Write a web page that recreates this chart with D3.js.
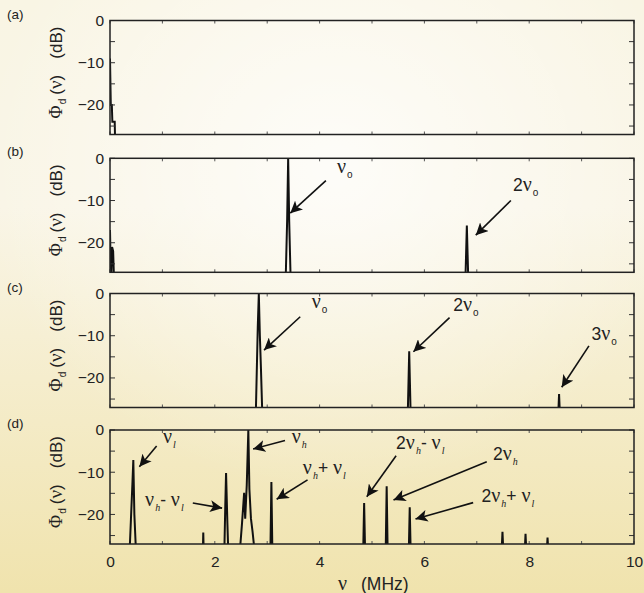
<!DOCTYPE html>
<html><head><meta charset="utf-8">
<script src="https://cdn.jsdelivr.net/npm/d3@7"></script>
<style>
html,body{margin:0;padding:0;background:#f6eed0;}
svg{display:block;}
</style></head>
<body>
<script>
// ---------- data ----------
const panelLabels = ["(a)", "(b)", "(c)", "(d)"];
const xTicksMajor = [0, 2, 4, 6, 8, 10];
const xTicksMinor = [0,1,2,3,4,5,6,7,8,9,10];
const yTicksMajor = [0, -10, -20];
const yTicksMinor = [0, -5, -10, -15, -20, -25];
const xDomain = [0, 10];
const yDomain = [-27, 0];

// spectra: [frequency MHz, level dB]
const spectrumA = [[0,-9],[0.015,-20],[0.035,-20],[0.045,-24],[0.09,-24],[0.1,-30]];
const spectrumB = [[0,-17],[0.02,-30],[0.04,-21],[0.06,-22],[0.08,-30],
  [3.35,-30],[3.38,-15],[3.40,0],[3.42,-15],[3.45,-30],
  [6.78,-30],[6.81,-15.9],[6.84,-30]];
const spectrumC = [[2.78,-30],[2.82,-8],[2.84,0],[2.86,-10],[2.88,-17.5],[2.91,-30],
  [5.68,-30],[5.71,-13.7],[5.74,-30],
  [8.55,-30],[8.57,-23.8],[8.59,-30]];
const spectrumD = [[0.37,-30],[0.40,-21],[0.43,-12],[0.445,-7.1],[0.465,-20],[0.50,-30],
  [1.77,-30],[1.78,-24.3],[1.79,-30],
  [2.18,-30],[2.20,-18],[2.215,-10.2],[2.24,-22],[2.26,-30],
  [2.47,-30],[2.52,-22],[2.56,-14.9],[2.58,-21],[2.61,-13],[2.64,0],[2.66,-14],[2.69,-21],[2.72,-24],[2.77,-30],
  [3.06,-30],[3.08,-12.3],[3.10,-30],
  [4.83,-30],[4.85,-17.3],[4.87,-30],
  [5.26,-30],[5.28,-13.3],[5.30,-30],
  [5.70,-30],[5.72,-18.3],[5.74,-30],
  [7.47,-30],[7.49,-24.1],[7.51,-30],
  [7.91,-30],[7.93,-24.6],[7.95,-30],
  [8.33,-30],[8.35,-25.5],[8.37,-30]];
const spectra = [spectrumA, spectrumB, spectrumC, spectrumD];

// annotations: panel, label parts, text anchor (MHz,dB), arrow from, arrow to
const annotations = [
  {p:1, parts:[["ν",""],["o","sub"]], tx:4.33, ty:-3.5, ax:[4.12,-5.3], bx:[3.44,-13.0]},
  {p:1, parts:[["2",""],["ν",""],["o","sub"]], tx:7.69, ty:-7.8, ax:[7.65,-10.0], bx:[6.98,-18.2]},
  {p:2, parts:[["ν",""],["o","sub"]], tx:3.85, ty:-3.5, ax:[3.63,-5.5], bx:[2.94,-13.4]},
  {p:2, parts:[["2",""],["ν",""],["o","sub"]], tx:6.55, ty:-4.2, ax:[6.48,-5.7], bx:[5.79,-13.8]},
  {p:2, parts:[["3",""],["ν",""],["o","sub"]], tx:9.19, ty:-11.0, ax:[9.14,-12.4], bx:[8.62,-22.2]},
  {p:3, parts:[["ν",""],["l","subi"]], tx:1.01, ty:-3.1, ax:[0.89,-3.8], bx:[0.56,-8.7]},
  {p:3, parts:[["ν",""],["h","subi"],["- ",""],["ν",""],["l","subi"]], tx:0.67, ty:-18.0, ax:[1.58,-17.3], bx:[2.14,-18.5]},
  {p:3, parts:[["ν",""],["h","subi"]], tx:3.47, ty:-3.0, ax:[3.34,-2.5], bx:[2.73,-4.5]},
  {p:3, parts:[["ν",""],["h","subi"],["+ ",""],["ν",""],["l","subi"]], tx:3.68, ty:-10.4, ax:[3.77,-11.8], bx:[3.18,-16.4]},
  {p:3, parts:[["2",""],["ν",""],["h","subi"],["- ",""],["ν",""],["l","subi"]], tx:5.46, ty:-4.6, ax:[5.46,-6.1], bx:[4.90,-15.8]},
  {p:3, parts:[["2",""],["ν",""],["h","subi"]], tx:7.31, ty:-7.1, ax:[7.19,-7.5], bx:[5.41,-16.6]},
  {p:3, parts:[["2",""],["ν",""],["h","subi"],["+ ",""],["ν",""],["l","subi"]], tx:7.09, ty:-17.0, ax:[6.93,-17.2], bx:[5.83,-21.1]}
];

// ---------- layout ----------
const W = 644, H = 593;
const left = 110, right = 634;
const panelTops = [20.5, 158.3, 293.5, 430];
const panelH = 114;
const sansFont = "'Liberation Sans', Arial, Helvetica, sans-serif";
const serifFont = "'Liberation Serif', 'Times New Roman', serif";

const svg = d3.select("body").append("svg").attr("width", W).attr("height", H)
  .attr("font-family", sansFont);

const defs = svg.append("defs");
const lg = defs.append("linearGradient").attr("id","bg").attr("x1",0).attr("y1",0).attr("x2",0).attr("y2",1);
lg.append("stop").attr("offset","0%").attr("stop-color","#f9f5e4");
lg.append("stop").attr("offset","35%").attr("stop-color","#f9f5e6");
lg.append("stop").attr("offset","100%").attr("stop-color","#f0e3ad");
const rg = defs.append("radialGradient").attr("id","glow")
  .attr("cx",0.52).attr("cy",0.28).attr("r",0.55);
rg.append("stop").attr("offset","0%").attr("stop-color","#ffffff").attr("stop-opacity",0.75);
rg.append("stop").attr("offset","100%").attr("stop-color","#ffffff").attr("stop-opacity",0);
defs.append("marker").attr("id","ah").attr("viewBox","0 0 10 10").attr("refX",10).attr("refY",5)
  .attr("markerWidth",12).attr("markerHeight",12).attr("markerUnits","userSpaceOnUse").attr("orient","auto")
  .append("path").attr("d","M0,0 L10,5 L0,10 L2.5,5 Z").attr("fill","#111");

svg.append("rect").attr("width",W).attr("height",H).attr("fill","url(#bg)");
svg.append("rect").attr("width",W).attr("height",H).attr("fill","url(#glow)");

const x = d3.scaleLinear().domain(xDomain).range([left, right]);

panelTops.forEach((top, i) => {
  const y = d3.scaleLinear().domain(yDomain).range([top + panelH, top]);
  const g = svg.append("g");
  const clipId = "clip" + i;
  defs.append("clipPath").attr("id", clipId).append("rect")
    .attr("x", left).attr("y", top).attr("width", right - left).attr("height", panelH);

  // spectrum
  const line = d3.line().x(d => x(d[0])).y(d => y(d[1]));
  g.append("path").datum(spectra[i]).attr("d", line)
    .attr("fill","none").attr("stroke","#111").attr("stroke-width",2)
    .attr("stroke-linejoin","miter").attr("clip-path", `url(#${clipId})`);

  // left axis
  const yl = d3.axisLeft(y).tickValues(yTicksMajor).tickSize(0).tickPadding(6)
    .tickFormat(d => d === 0 ? "0" : "\u2212" + Math.abs(d));
  const ga = g.append("g").attr("transform", `translate(${left},0)`).call(yl);
  ga.select(".domain").remove();
  ga.selectAll("text").attr("font-size", 15.5).attr("font-family", sansFont).attr("fill","#222");

  // minor ticks inward (left & right)
  yTicksMinor.forEach(v => {
    g.append("line").attr("x1", left).attr("x2", left + 5).attr("y1", y(v)).attr("y2", y(v))
      .attr("stroke","#333").attr("stroke-width",1);
    g.append("line").attr("x1", right).attr("x2", right - 5).attr("y1", y(v)).attr("y2", y(v))
      .attr("stroke","#333").attr("stroke-width",1);
  });
  xTicksMinor.forEach(v => {
    g.append("line").attr("x1", x(v)).attr("x2", x(v)).attr("y1", top).attr("y2", top + 3)
      .attr("stroke","#555").attr("stroke-width",1);
    g.append("line").attr("x1", x(v)).attr("x2", x(v)).attr("y1", top + panelH).attr("y2", top + panelH - 3)
      .attr("stroke","#555").attr("stroke-width",1);
  });

  // frame
  g.append("rect").attr("x", left).attr("y", top).attr("width", right - left).attr("height", panelH)
    .attr("fill","none").attr("stroke","#222").attr("stroke-width",1.5);

  // bottom axis labels for last panel
  if (i === 3) {
    const xa = d3.axisBottom(x).tickValues(xTicksMajor).tickSize(0).tickPadding(12).tickFormat(d3.format("d"));
    const gx = g.append("g").attr("transform", `translate(0,${top + panelH})`).call(xa);
    gx.select(".domain").remove();
    gx.selectAll("text").attr("font-size", 15.5).attr("font-family", sansFont).attr("fill","#222");
  }

  // panel label
  svg.append("text").attr("x", 7).attr("y", top - 2).attr("font-size", 13.5).attr("fill","#222")
    .text(panelLabels[i]);

  // y-axis title
  const yc = top + 52;
  const t = svg.append("text").attr("transform", `translate(62,${yc}) rotate(-90)`)
    .attr("text-anchor","middle").attr("font-size", 17).attr("fill","#222");
  t.append("tspan").attr("font-family", serifFont).attr("font-size",18).text("Φ");
  t.append("tspan").attr("font-size", 10).attr("dy", 4).attr("dx", 1).text("d");
  t.append("tspan").attr("dy", -4).attr("dx", 4).text("(");
  t.append("tspan").attr("font-family", serifFont).attr("font-size",19).text("ν");
  t.append("tspan").text(")");
  t.append("tspan").attr("dx", 16).text("(dB)");

  // annotations
  annotations.filter(a => a.p === i).forEach(a => {
    g.append("line").attr("x1", x(a.ax[0])).attr("y1", y(a.ax[1]))
      .attr("x2", x(a.bx[0])).attr("y2", y(a.bx[1]))
      .attr("stroke","#111").attr("stroke-width",1.6).attr("marker-end","url(#ah)");
    const tt = g.append("text").attr("x", x(a.tx)).attr("y", y(a.ty))
      .attr("font-size", 17.5).attr("fill","#222");
    let shifted = false;
    a.parts.forEach(([s, kind]) => {
      const sp = tt.append("tspan").text(s);
      if (s === "ν") sp.attr("font-family", serifFont).attr("font-size", 20);
      if (kind === "sub" || kind === "subi") {
        sp.attr("font-size", 10).attr("dy", 5).attr("dx", 1);
        if (kind === "subi") sp.attr("font-style","italic").attr("font-family", serifFont);
        shifted = true;
      } else if (shifted) {
        sp.attr("dy", -5);
        shifted = false;
      }
    });
  });
});

// x-axis title
const xt = svg.append("text").attr("x", 338).attr("y", 590).attr("font-size", 17.5).attr("fill","#222");
xt.append("tspan").attr("font-family", serifFont).attr("font-size", 20).text("ν");
xt.append("tspan").attr("dx", 14).text("(MHz)");
</script>
</body></html>
